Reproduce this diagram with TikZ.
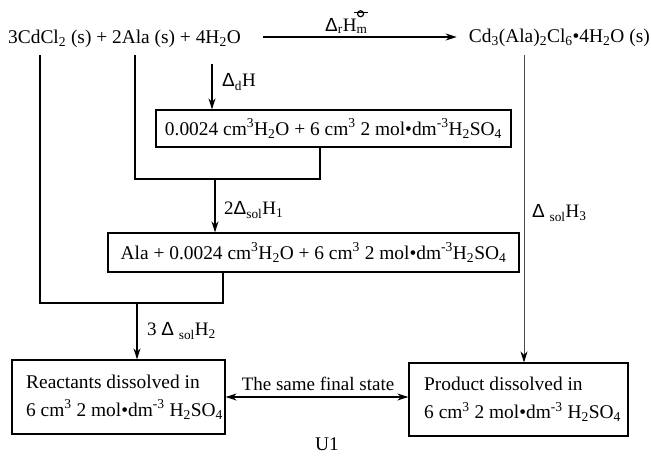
\documentclass[tikz,border=0pt]{standalone}
\usepackage{fontspec}
\setmainfont{Liberation Serif}
\newfontfamily\deltafont{Liberation Sans}
\usetikzlibrary{arrows.meta}
\newcommand{\dl}{{\deltafont Δ}}
\newcommand{\mysub}[1]{\textsubscript{#1}}
\newcommand{\mysup}[1]{\textsuperscript{#1}}
\begin{document}
\begin{tikzpicture}[x=1pt,y=-1pt,
  conn/.style={line width=1.4pt},
  arr/.style={line width=1.4pt,-{Stealth[length=11pt,width=7pt]}},
  thinarr/.style={line width=0.8pt,draw=black!70,-{Stealth[length=11pt,width=7pt,color=black]}},
  dblarr/.style={line width=1.4pt,{Stealth[length=11pt,width=7pt]}-{Stealth[length=11pt,width=7pt]}},
  box/.style={draw,line width=1.2pt,inner sep=0pt},
  txt/.style={inner sep=0pt,font=\fontsize{19.4}{28}\selectfont},
  lbl/.style={inner sep=0pt,font=\fontsize{19}{22}\selectfont},
  plim/.style={line width=1.2pt}]
\useasboundingbox (0,0) rectangle (651,464);

% top row
\node[txt,anchor=base west] (react) at (8,43) {3CdCl\mysub{2} (s) + 2Ala (s) + 4H\mysub{2}O};
\node[txt,anchor=base east] (prod) at (650,42) {Cd\mysub{3}(Ala)\mysub{2}Cl\mysub{6}•4H\mysub{2}O (s)};
\coordinate (ta) at (263,37);
\draw[arr,shorten >=12pt] (ta) -- (ta -| prod.west);
\node[lbl,anchor=base west] (lrH) at (325,31) {\dl\mysub{r}H\mysub{m}};
% standard-state symbol above the m
\coordinate (plc) at ([xshift=-7pt,yshift=4pt]lrH.north east);
\draw[plim] (plc) circle[radius=3pt];
\draw[plim] ([xshift=-7pt,yshift=1pt]plc) -- ([xshift=7pt,yshift=1pt]plc);

% boxes
\node[box,minimum width=355pt,minimum height=37pt,txt] (b1) at (333.5,128.5)
  {0.0024 cm\mysup{3}H\mysub{2}O + 6 cm\mysup{3} 2 mol•dm\mysup{-3}H\mysub{2}SO\mysub{4}};
\node[box,minimum width=411pt,minimum height=39pt,txt] (b2) at (313.5,252.5)
  {Ala + 0.0024 cm\mysup{3}H\mysub{2}O + 6 cm\mysup{3} 2 mol•dm\mysup{-3}H\mysub{2}SO\mysub{4}};
\node[box,minimum width=213pt,minimum height=74pt] (b3) at (118.5,397) {};
\node[txt,anchor=west,align=left] (b3t) at (26,397)
  {Reactants dissolved in\\6 cm\mysup{3} 2 mol•dm\mysup{-3} H\mysub{2}SO\mysub{4}};
\node[box,minimum width=219pt,minimum height=73pt] (b4) at (518.5,399.5) {};
\node[txt,anchor=west,align=left] (b4t) at (424,399.5)
  {Product dissolved in\\6 cm\mysup{3} 2 mol•dm\mysup{-3} H\mysub{2}SO\mysub{4}};

% Delta_d H
\coordinate (dtop) at (212,64);
\draw[arr] (dtop) -- (dtop |- b1.north);
\node[lbl,anchor=west] (ldH) at (222,82) {\dl\mysub{d}H};

% Ala branch
\coordinate (L2top) at (135,55);
\coordinate (L2bot) at (135,179);
\coordinate (j1) at (320,179);
\draw[conn] (L2top) -- (L2bot) -- (j1) -- (j1 |- b1.south);
\coordinate (j1m) at (215,179);
\draw[arr] (j1m) -- (j1m |- b2.north);
\node[lbl,anchor=west] (lH1) at (224,210) {2\dl\mysub{sol}H\mysub{1}};

% CdCl2 branch
\coordinate (L1top) at (40,55);
\coordinate (L1bot) at (40,303);
\coordinate (j2) at (223,303);
\draw[conn] (L1top) -- (L1bot) -- (j2) -- (j2 |- b2.south);
\coordinate (j2m) at (137,303);
\draw[arr] (j2m) -- (j2m |- b3.north);
\node[lbl,anchor=west] (lH2) at (147,331) {3 \dl\ \mysub{sol}H\mysub{2}};

% product branch
\coordinate (Rtop) at (524,55);
\draw[thinarr] (Rtop) -- (Rtop |- b4.north);
\node[lbl,anchor=west] (lH3) at (532,213) {\dl\ \mysub{sol}H\mysub{3}};

% same final state
\draw[dblarr] (b3.east) -- (b3.east -| b4.west);
\node[lbl,anchor=base] (same) at (318,390) {The same final state};

\node[txt,anchor=base] (u1) at (327,450) {U1};
\end{tikzpicture}
\end{document}
